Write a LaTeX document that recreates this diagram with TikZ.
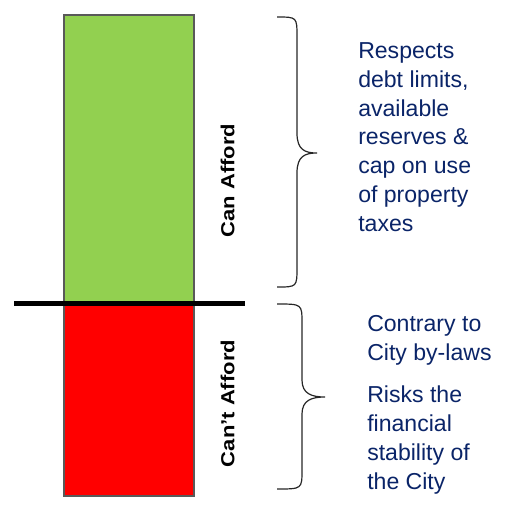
\documentclass[tikz,border=0pt]{standalone}
\usepackage{fontspec}
\setmainfont{Liberation Sans}
\usepackage{graphicx}
\definecolor{affordgreen}{HTML}{92D050}
\definecolor{affordred}{HTML}{FF0000}
\definecolor{notenavy}{RGB}{10,36,104}
\begin{document}
\begin{tikzpicture}[x=0.75pt,y=-0.75pt,
  bar/.style={draw=black!65,line width=0.8pt},
  brace/.style={draw=black!85,line width=0.9pt},
  sidelabel/.style={rotate=90,font=\bfseries\fontsize{16.5pt}{19pt}\selectfont,inner sep=0},
  note/.style={anchor=north west,align=left,inner sep=0,text=notenavy,
    font=\fontsize{17.3pt}{21.7pt}\selectfont}]
\useasboundingbox (0,0) rectangle (507,508);

% the two halves of the bar
\path[bar,fill=affordgreen] (64,15) rectangle (194,302);
\path[bar,fill=affordred] (64,304) rectangle (194,496);

% dividing line
\coordinate (divL) at (14,303.5);
\coordinate (divR) at (245,303.5);
\draw[line width=3.75pt] (divL) -- (divR);

% labels along the bar
\node[sidelabel] (can) at (227.5,180.5) {\scalebox{1}[0.86]{Can Afford}};
\node[sidelabel] (cant) at (227.5,403.5) {\scalebox{1}[0.86]{Can’t Afford}};

% upper brace
\draw[brace] (277,17) .. controls (297,17) .. (297,37) -- (297,133)
  .. controls (297,150) and (305,153) .. (317,153)
  .. controls (305,153) and (297,156) .. (297,173) -- (297,267)
  .. controls (297,287) .. (277,287);

% lower brace
\draw[brace] (277,304) .. controls (302,304) .. (302,323) -- (302,380)
  .. controls (302,394) and (312,397) .. (325,397)
  .. controls (312,397) and (302,400) .. (302,414) -- (302,470)
  .. controls (302,489) .. (277,489);

% notes
\node[note] (upper) at (358,42) {Respects\\debt limits,\\available\\reserves \&\\cap on use\\of property\\taxes};
\node[note] (contrary) at (367,315) {Contrary to\\City by-laws};
\node[note] (risks) at (367,386) {Risks the\\financial\\stability of\\the City};
\end{tikzpicture}
\end{document}
